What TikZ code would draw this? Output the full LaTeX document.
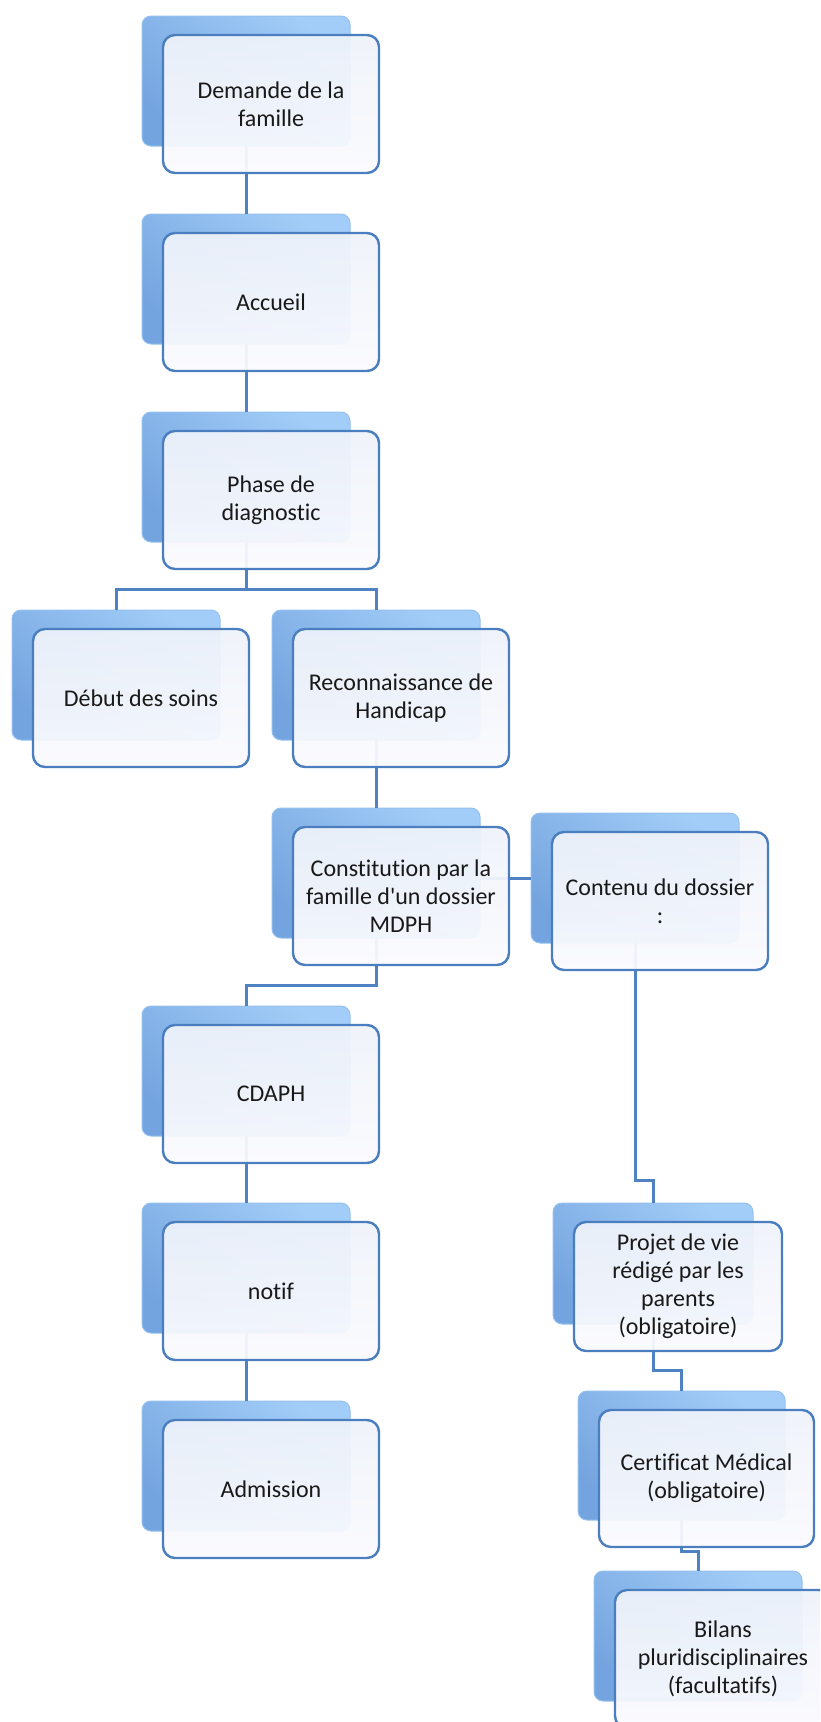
\documentclass[tikz,border=0pt]{standalone}
\usepackage{fontspec}
\setmainfont{Carlito}[Ligatures=NoCommon]
\usepackage{tikz}
\usetikzlibrary{positioning,calc}
\definecolor{linkblue}{HTML}{4F82C2}
\definecolor{frameblue}{HTML}{4A7EBF}
\definecolor{bevdark}{HTML}{74A4DF}
\definecolor{bevlite}{HTML}{A2CDF8}
\definecolor{cardtop}{HTML}{EEF2FA}
\definecolor{cardbot}{HTML}{FBFBFE}
\tikzset{
  backcard/.style={rounded corners=9pt,left color=bevdark,right color=bevlite,shading angle=140,
    draw=bevlite!70!bevdark,line width=1pt,anchor=north west,inner sep=0pt,outer sep=0pt},
  frontcard/.style={rounded corners=12pt,top color=cardtop,bottom color=cardbot,
    fill opacity=0.94,text opacity=1,draw=frameblue,draw opacity=1,line width=2.4pt,
    anchor=north west,inner sep=0pt,outer sep=0pt,align=center,text=black!90,
    font=\fontsize{24}{28}\selectfont},
  link/.style={draw=linkblue,line width=3pt}
}
% name/x/y/width/height/text of the front cards
\def\cards{dem/163/35/216/138/{Demande de la\\famille},
  acc/163/233/216/138/{Accueil},
  pha/163/431/216/138/{Phase de\\diagnostic},
  deb/33/629/216/138/{Début des soins},
  rec/293/629/216/138/{Reconnaissance de\\Handicap},
  con/293/827/216/138/{Constitution par la\\famille d\textquotesingle un dossier\\MDPH},
  cnt/552/832/216/138/{Contenu du dossier\\:},
  cda/163/1025/216/138/{CDAPH},
  not/163/1222/216/138/{notif},
  adm/163/1420/216/138/{Admission},
  pro/574/1222/208/129/{Projet de vie\\rédigé par les\\parents\\(obligatoire)},
  cer/599/1410/215/137/{Certificat Médical\\(obligatoire)},
  bil/615/1590/216/138/{Bilans\\pluridisciplinaires\\(facultatifs)}}

\begin{document}
\begin{tikzpicture}[x=1pt,y=-1pt]
  \useasboundingbox (0,0) rectangle (820,1722);
  \clip (0,0) rectangle (820,1722);

  % cards behind
  \foreach \n/\x/\y/\w/\h/\txt in \cards {
    \node[backcard,minimum width={(\w-8)*1pt},minimum height={(\h-8)*1pt}] (\n-b) at ({\x-21},{\y-19}) {};
  }

  % left chain
  \draw[link] (dem-b.south) -- (acc-b.north);
  \draw[link] (acc-b.south) -- (pha-b.north);
  \draw[link] (pha-b.south) -- (pha-b.south |- 0,589);
  \draw[link] (deb-b.north) |- (pha-b.south |- 0,589) -| (rec-b.north);
  \draw[link] (rec-b.south) -- (con-b.north);
  \draw[link] (con-b.south) -- (con-b.south |- 0,985) -| (cda-b.north);
  \draw[link] (cda-b.south) -- (not-b.north);
  \draw[link] (not-b.south) -- (adm-b.north);

  % dossier contents
  \draw[link] (con-b.east |- cnt-b.west) -- (cnt-b.west);
  \draw[link] (cnt-b.south) -- (cnt-b.south |- 0,1180) -| (pro-b.north);
  \draw[link] (pro-b.south) -- (pro-b.south |- 0,1370) -| (cer-b.north);
  \draw[link] (cer-b.south) -- (cer-b.south |- 0,1551) -| (bil-b.north);

  % cards in front
  \foreach \n/\x/\y/\w/\h/\txt in \cards {
    \node[frontcard,minimum width={\w*1pt},minimum height={\h*1pt}] (\n) at (\x,\y) {\txt};
  }
\end{tikzpicture}
\end{document}
